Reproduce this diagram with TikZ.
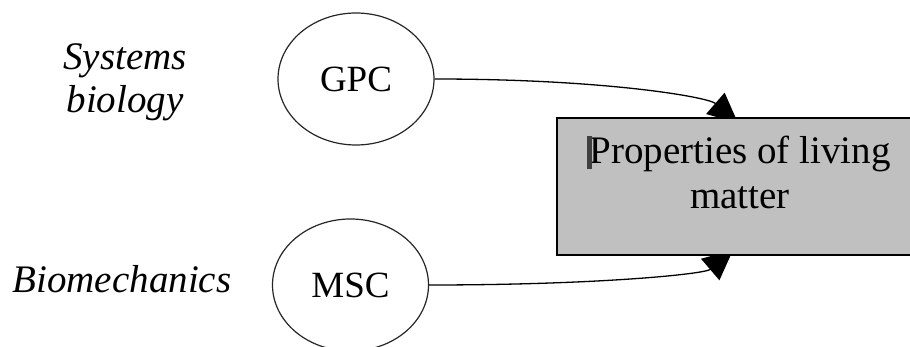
\documentclass[tikz,border=0pt]{standalone}
\usepackage{fontspec}
\setmainfont{Liberation Serif}
\usetikzlibrary{shapes.geometric,arrows.meta}
\definecolor{boxgray}{RGB}{192,192,192}
\begin{document}
\begin{tikzpicture}[x=1pt,y=-1pt,
  oval/.style={ellipse,draw=black!85,line width=1.2pt,minimum width=156pt,minimum height=132pt,inner sep=0pt,font=\fontsize{37}{42}\selectfont},
  side/.style={font=\fontsize{39}{43}\selectfont\itshape,align=center,inner sep=0pt},
  boxst/.style={rectangle,draw=black,line width=2.8pt,fill=boxgray,minimum width=500pt,minimum height=137pt,inner sep=0pt},
  conn/.style={line width=1.3pt,-{Triangle[length=30pt,width=28pt]}}
]
\useasboundingbox (0,0) rectangle (910,347);
\clip (0,0) rectangle (910,347);
\fill[white] (0,0) rectangle (910,347);
% labels
\node[side] (sys) at (125,82) {Systems\\biology};
\node[side,anchor=base] (bio) at (122,293) {Biomechanics};
% ellipses
\node[oval] (gpc) at (356,79) {GPC};
\node[oval] (msc) at (350.5,285) {MSC};
% arrow ends (inside the box, tips hidden by it)
\coordinate (t1) at (738,123);
\coordinate (t2) at (733,250);
\draw[conn] (gpc.east) .. controls +(170,0) and +(-30,-26) .. (t1);
\draw[conn] (msc.east) .. controls +(170,0) and +(-28,24) .. (t2);
% box
\node[boxst] (box) at (807,186.5) {};
\node[font=\fontsize{39}{45}\selectfont,align=center,inner sep=0pt] (boxtext) at (740,172) {Properties of living\\matter};
\fill[black!75] (587,136) rectangle (592,169);
\end{tikzpicture}
\end{document}
